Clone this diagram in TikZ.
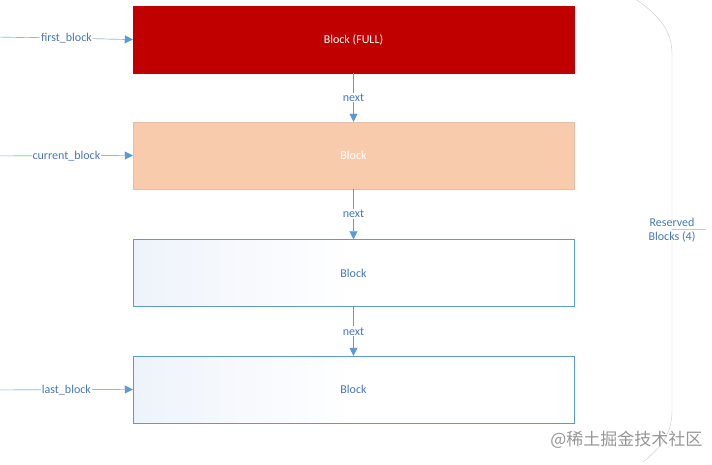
\documentclass[tikz,border=0pt]{standalone}
\usepackage{fontspec}
\setmainfont{Carlito}
\newfontfamily\cjk{Noto Sans CJK SC}
\usetikzlibrary{arrows.meta}
\definecolor{lnblue}{RGB}{91,155,213}
\definecolor{txblue}{RGB}{70,120,180}
\begin{document}
\begin{tikzpicture}[x=1pt,y=-1pt,font=\fontsize{12}{14}\selectfont,
 blk/.style={draw=lnblue,minimum width=441pt,minimum height=67pt,inner sep=0pt,text=txblue},
 arr/.style={draw=lnblue,-{Triangle[length=8pt,width=8pt]},fill=lnblue},
 lbl/.style={fill=white,inner sep=1pt,text=txblue}]
\useasboundingbox (0,0) rectangle (712,465);
\node[blk,fill={rgb,255:red,192;green,0;blue,0},draw={rgb,255:red,192;green,0;blue,0},text=white] (b1) at (353.5,39.5) {Block (FULL)};
\node[blk,fill={rgb,255:red,248;green,203;blue,173},draw={rgb,255:red,230;green,190;blue,165},text=white] (b2) at (353.5,155.5) {Block};
\node[blk,left color={rgb,255:red,238;green,243;blue,251},right color=white,middle color=white] (b3) at (353.5,273) {Block};
\node[blk,left color={rgb,255:red,238;green,243;blue,251},right color=white,middle color=white] (b4) at (353.5,389.5) {Block};
\foreach \a/\b in {b1/b2,b2/b3,b3/b4}{
 \draw[arr] (\a.south) -- node[lbl]{next} (\b.north);}
\coordinate (s1) at (0,37); \coordinate (s2) at (0,156);\coordinate (s4) at (0,390);
\draw[arr] (s1) -- node[lbl,pos=0.5]{first\_block} (b1.west);
\draw[arr] (s2) -- node[lbl,pos=0.5]{current\_block} (b2.west);
\draw[arr] (s4) -- node[lbl,pos=0.5]{last\_block} (b4.west);
\draw[draw={rgb,255:red,200;green,200;blue,200}] (637,0) .. controls (665,20) and (672,35) .. (672,55) -- (672,410) .. controls (672,430) and (665,445) .. (643,462);
\draw[draw={rgb,255:red,200;green,200;blue,200}] (672,229) -- (706,229);
\node[text=txblue,align=center,inner sep=0pt] (rl) at (672,230) {Reserved\\Blocks (4)};
\node[text={rgb,255:red,150;green,150;blue,150},font=\cjk\fontsize{17}{19}\selectfont,anchor=east] (wm) at (706,440) {@稀土掘金技术社区};
\end{tikzpicture}
\end{document}
